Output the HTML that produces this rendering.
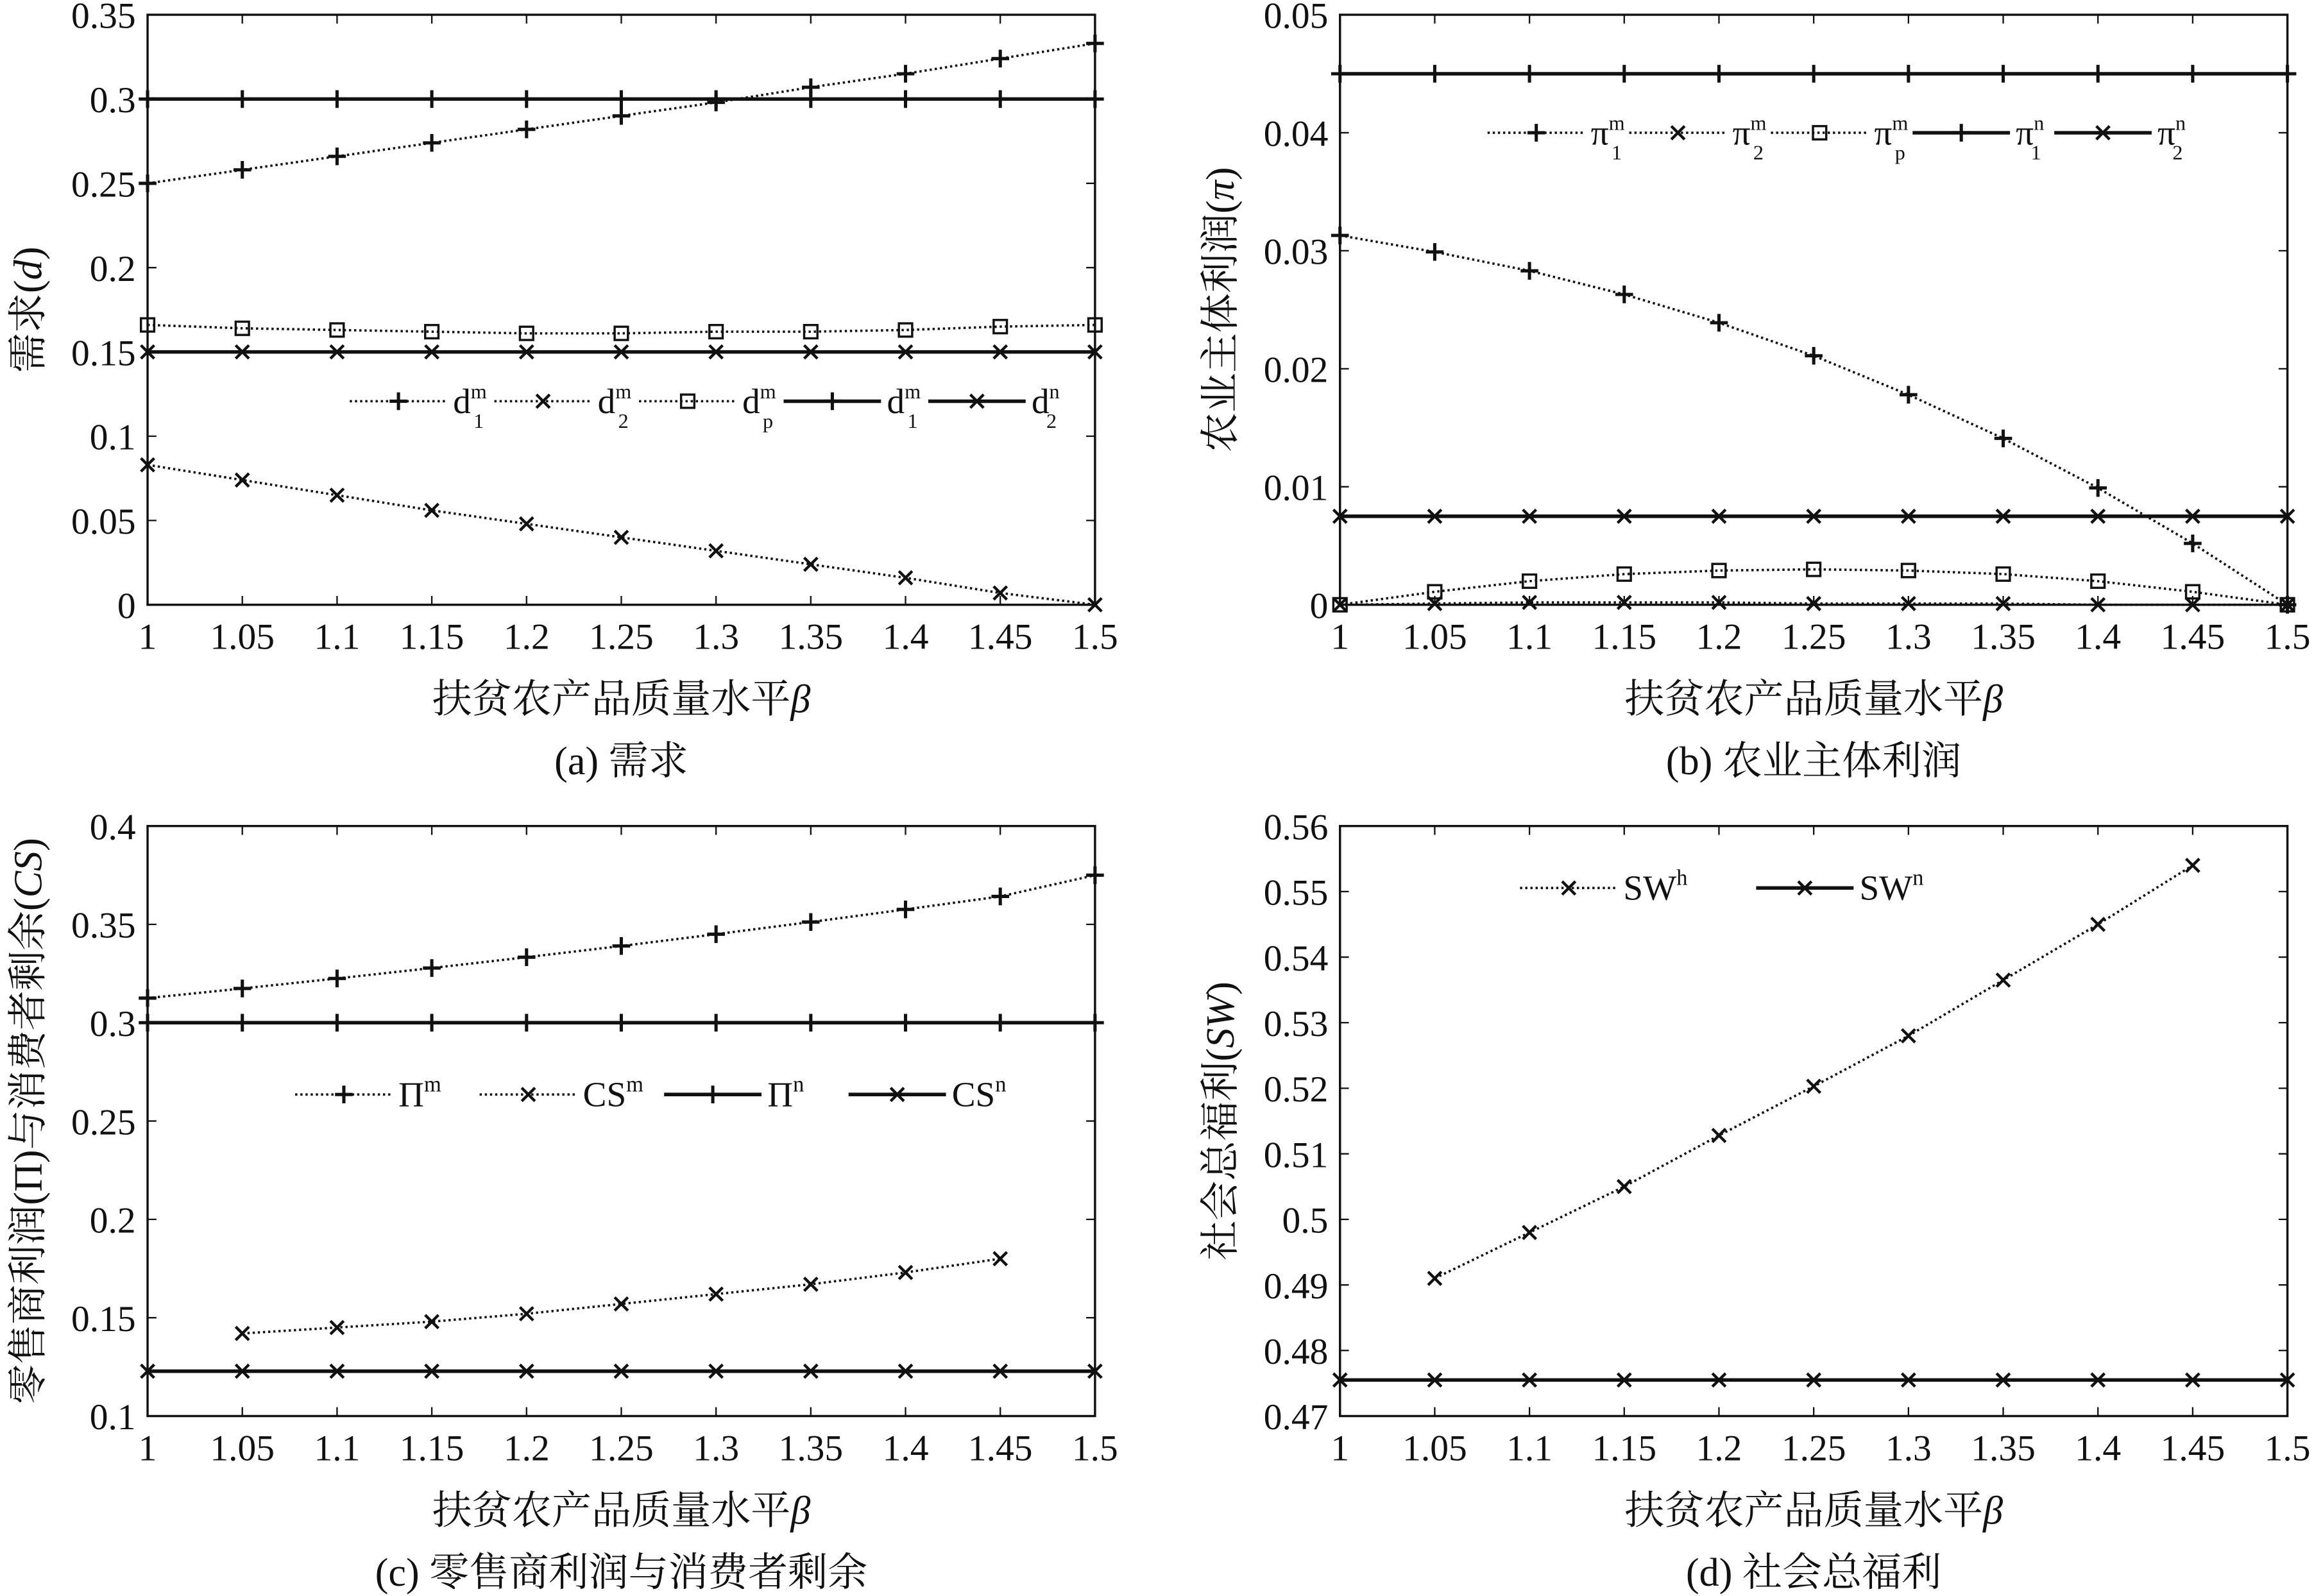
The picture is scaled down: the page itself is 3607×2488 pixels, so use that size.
<!DOCTYPE html>
<html><head><meta charset="utf-8">
<style>
html,body{margin:0;padding:0;background:#fff;}
svg{display:block;}
text{font-family:"Liberation Serif","Noto Serif CJK SC",serif;fill:#111;}
</style></head>
<body>
<svg id="s" width="3607" height="2488" viewBox="0 0 1568 1082" preserveAspectRatio="none" xmlns="http://www.w3.org/2000/svg"></svg>
<script>
const S=document.getElementById('s');let h='';
const xs=[1,1.05,1.1,1.15,1.2,1.25,1.3,1.35,1.4,1.45,1.5];
function mk(t,x,y){
 if(t==='+')return `<path d="M${x-6},${y}H${x+6}M${x},${y-6}V${y+6}" stroke="#111" stroke-width="2.2"/>`;
 if(t==='x')return `<path d="M${x-4.5},${y-4.5}L${x+4.5},${y+4.5}M${x-4.5},${y+4.5}L${x+4.5},${y-4.5}" stroke="#111" stroke-width="1.9"/>`;
 if(t==='s')return `<rect x="${x-4.5}" y="${y-4.5}" width="9" height="9" fill="none" stroke="#111" stroke-width="1.5"/>`;
 return '';
}
function panel(o){
 const {L,R,T,B,y0,y1,yt,yfmt}=o;
 const X=v=>L+(v-1)/0.5*(R-L), Y=v=>B-(v-y0)/(y1-y0)*(B-T);
 h+=`<rect x="${L}" y="${T}" width="${R-L}" height="${B-T}" fill="none" stroke="#111" stroke-width="1.5"/>`;
 xs.forEach(v=>{const x=X(v);h+=`<path d="M${x},${B}v-6M${x},${T}v6" stroke="#111"/>`;
  h+=`<text x="${x}" y="${B+30}" font-size="25" text-anchor="middle">${v}</text>`;});
 yt.forEach(v=>{const y=Y(v);h+=`<path d="M${L},${y}h6M${R},${y}h-6" stroke="#111"/>`;
  h+=`<text x="${L-8}" y="${y+9}" font-size="25" text-anchor="end">${yfmt?yfmt(v):v}</text>`;});
 o.series.forEach(s=>{
  const pts=s.x.map((v,i)=>[X(v),Y(s.y[i])]);
  h+=`<polyline points="${pts.map(p=>p.join(',')).join(' ')}" fill="none" stroke="#111" stroke-width="${s.dot?1.6:2.4}" ${s.dot?'stroke-dasharray="1.5,2"':''}/>`;
  pts.forEach(p=>h+=mk(s.m,p[0],p[1]));
 });
 h+=`<text x="${(L+R)/2}" y="${B+73}" font-size="27" text-anchor="middle">扶贫农产品质量水平<tspan font-style="italic">β</tspan></text>`;
 h+=`<text x="${(L+R)/2}" y="${B+115}" font-size="27" text-anchor="middle">${o.cap}</text>`;
 h+=`<text transform="translate(${o.yx},${(T+B)/2}) rotate(-90)" font-size="27" text-anchor="middle">${o.ylab}</text>`;
 h+=o.leg;
}
function legItem(x,y,m,dot,lab){
 return `<path d="M${x},${y}h66" stroke="#111" stroke-width="${dot?1.6:2.4}" ${dot?'stroke-dasharray="1.5,2"':''}/>`+mk(m,x+33,y)+`<text x="${x+70}" y="${y+8}" font-size="24">${lab}</text>`;
}
function sub(b,sp,sb){return `${b}<tspan font-size="14" dy="-10">${sp}</tspan><tspan font-size="14" dx="-9" dy="20">${sb}</tspan>`;}
const E=xs.slice(1,10);
let la='';[['+',1,sub('d','m','1')],['x',1,sub('d','m','2')],['s',1,sub('d','m','p')],['+',0,sub('d','m','1')],['x',0,sub('d','n','2')]].forEach((a,i)=>la+=legItem(237+i*98,272,a[0],a[1],a[2]));
panel({L:100,R:742,T:10,B:410,y0:0,y1:0.35,yt:[0,0.05,0.1,0.15,0.2,0.25,0.3,0.35],cap:'(a) 需求',yx:28,ylab:'需求(<tspan font-style="italic">d</tspan>)',leg:la,series:[
 {x:xs,y:[0.25,0.258,0.266,0.274,0.282,0.29,0.298,0.307,0.315,0.324,0.333],m:'+',dot:1},
 {x:xs,y:[0.083,0.074,0.065,0.056,0.048,0.040,0.032,0.024,0.016,0.007,0],m:'x',dot:1},
 {x:xs,y:[0.166,0.164,0.163,0.162,0.161,0.161,0.162,0.162,0.163,0.165,0.166],m:'s',dot:1},
 {x:xs,y:xs.map(()=>0.3),m:'+'},{x:xs,y:xs.map(()=>0.15),m:'x'}]});
let lb='';[['+',1,sub('π','m','1')],['x',1,sub('π','m','2')],['s',1,sub('π','m','p')],['+',0,sub('π','n','1')],['x',0,sub('π','n','2')]].forEach((a,i)=>lb+=legItem(1008+i*96,90,a[0],a[1],a[2]));
panel({L:908,R:1550,T:10,B:410,y0:0,y1:0.05,yt:[0,0.01,0.02,0.03,0.04,0.05],cap:'(b) 农业主体利润',yx:836,ylab:'农业主体利润(<tspan font-style="italic">π</tspan>)',leg:lb,series:[
 {x:xs,y:[0.0313,0.0299,0.0283,0.0263,0.0239,0.0211,0.0178,0.0141,0.0099,0.0052,0],m:'+',dot:1},
 {x:xs,y:[0,0.0001,0.0002,0.0002,0.0002,0.0001,0.0001,0.0001,0,0,0],m:'x',dot:1},
 {x:xs,y:[0,0.0011,0.0020,0.0026,0.0029,0.0030,0.0029,0.0026,0.0020,0.0011,0],m:'s',dot:1},
 {x:xs,y:xs.map(()=>0.045),m:'+'},{x:xs,y:xs.map(()=>0.0075),m:'x'}]});
let lc='';[['+',1,'Π<tspan font-size="15" dy="-10">m</tspan>'],['x',1,'CS<tspan font-size="15" dy="-10">m</tspan>'],['+',0,'Π<tspan font-size="15" dy="-10">n</tspan>'],['x',0,'CS<tspan font-size="15" dy="-10">n</tspan>']].forEach((a,i)=>lc+=legItem(200+i*125,742,a[0],a[1],a[2]));
panel({L:100,R:742,T:560,B:960,y0:0.1,y1:0.4,yt:[0.1,0.15,0.2,0.25,0.3,0.35,0.4],cap:'(c) 零售商利润与消费者剩余',yx:28,ylab:'零售商利润(Π)与消费者剩余(<tspan font-style="italic">CS</tspan>)',leg:lc,series:[
 {x:xs,y:[0.3125,0.3174,0.3225,0.3278,0.3333,0.339,0.345,0.3512,0.3576,0.3642,0.375],m:'+',dot:1},
 {x:E,y:[0.142,0.145,0.148,0.152,0.157,0.162,0.167,0.173,0.180],m:'x',dot:1},
 {x:xs,y:xs.map(()=>0.3),m:'+'},{x:xs,y:xs.map(()=>0.1228),m:'x'}]});
let ld='';[['x',1,'SW<tspan font-size="15" dy="-10">h</tspan>'],['x',0,'SW<tspan font-size="15" dy="-10">n</tspan>']].forEach((a,i)=>ld+=legItem(1030+i*160,602,a[0],a[1],a[2]));
panel({L:908,R:1550,T:560,B:960,y0:0.47,y1:0.56,yt:[0.47,0.48,0.49,0.5,0.51,0.52,0.53,0.54,0.55,0.56],cap:'(d) 社会总福利',yx:836,ylab:'社会总福利(<tspan font-style="italic">SW</tspan>)',leg:ld,series:[
 {x:E,y:[0.491,0.498,0.505,0.5128,0.5203,0.528,0.5365,0.545,0.554],m:'x',dot:1},
 {x:xs,y:xs.map(()=>0.4755),m:'x'}]});
S.innerHTML=h;
</script>
</body></html>
